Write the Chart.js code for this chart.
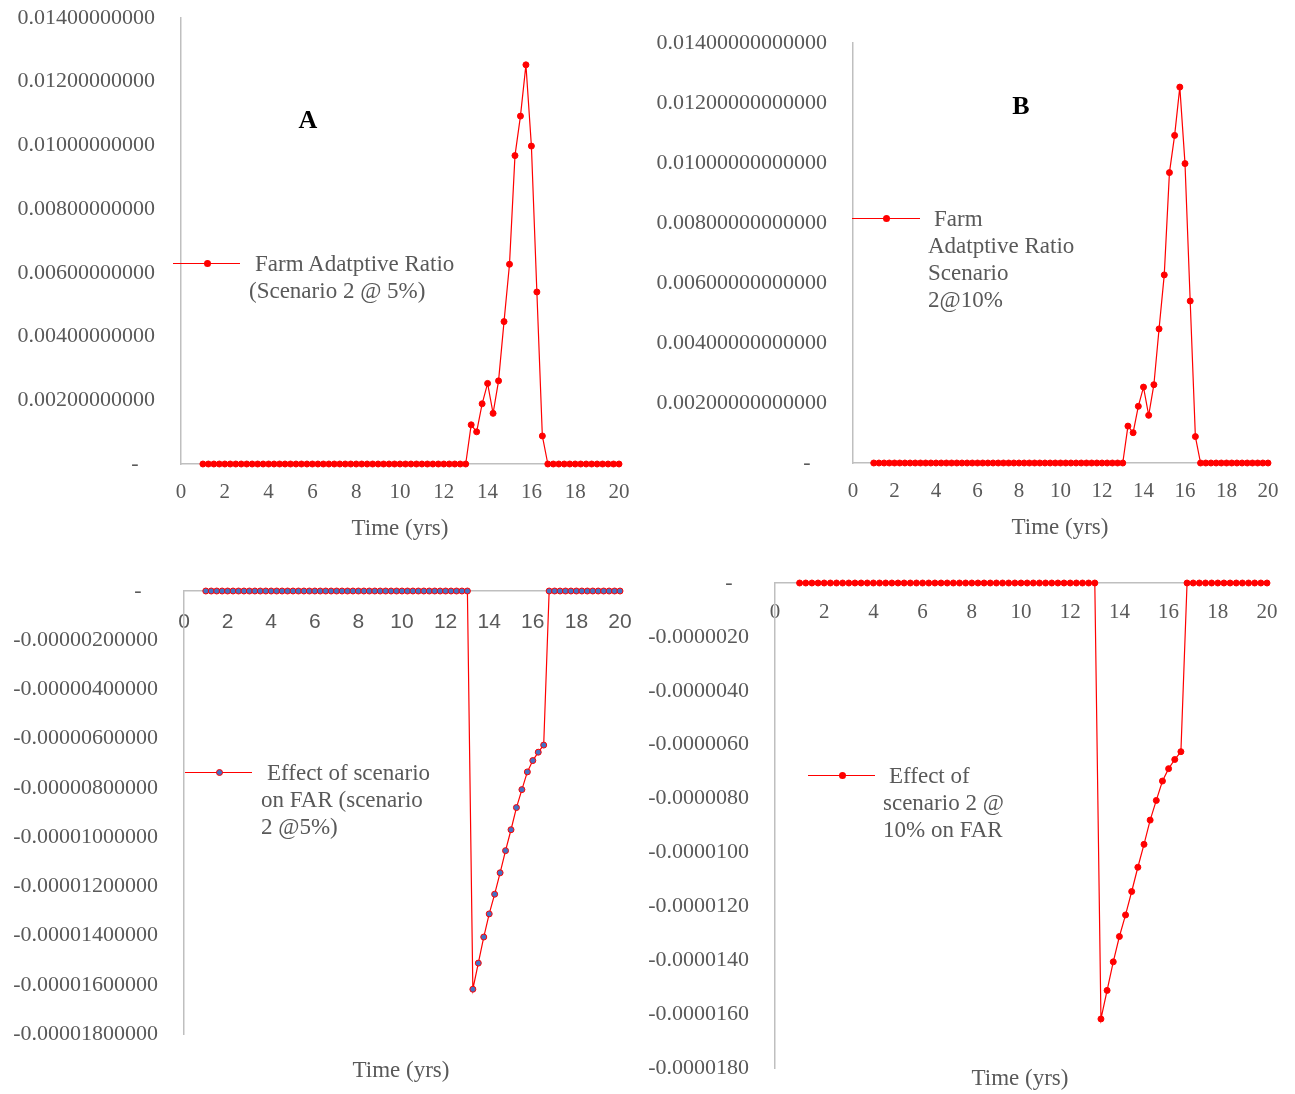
<!DOCTYPE html>
<html>
<head>
<meta charset="utf-8">
<script src="https://cdn.jsdelivr.net/npm/chart.js@4.4.0/dist/chart.umd.min.js"></script>
<style>
body { margin: 0; background: #fff; }
#wrap { position: relative; width: 1295px; height: 1094px; overflow: hidden; font-family: "Liberation Serif", serif; color: #595959; }
canvas { position: absolute; }
.leg { position: absolute; font-size: 23px; line-height: 27px; white-space: nowrap; }
.leg .first { padding-left: 6px; }
.legLine { position: absolute; height: 1px; background: #ff0000; }
.legDot { position: absolute; width: 7px; height: 7px; border-radius: 50%; background: #ff0000; box-sizing: border-box; }
.axTitle { position: absolute; font-size: 23px; white-space: nowrap; transform: translate(-50%, -50%); }
.tag { position: absolute; font-weight: bold; font-size: 26px; color: #000; transform: translate(-50%, -50%); }
</style>
</head>
<body>
<div id="wrap">
  <canvas id="chartA" width="645" height="550" style="left:0;top:0"></canvas>
  <canvas id="chartB" width="650" height="550" style="left:645px;top:0"></canvas>
  <canvas id="chartC" width="645" height="520" style="left:0;top:555px"></canvas>
  <canvas id="chartD" width="650" height="539" style="left:645px;top:555px"></canvas>

  <div class="tag" style="left:308px;top:120px">A</div>
  <div class="tag" style="left:1021px;top:106px">B</div>

  <div class="legLine" style="left:173px;top:263px;width:67px"></div>
  <div class="legDot" style="left:203.5px;top:260px"></div>
  <div class="leg" style="left:249px;top:249.5px"><div class="first">Farm Adatptive Ratio</div><div>(Scenario 2 @ 5%)</div></div>

  <div class="legLine" style="left:852px;top:218px;width:68px"></div>
  <div class="legDot" style="left:882.5px;top:215px"></div>
  <div class="leg" style="left:928px;top:204.5px"><div class="first">Farm</div><div>Adatptive Ratio</div><div>Scenario</div><div>2@10%</div></div>

  <div class="legLine" style="left:185px;top:772px;width:67px"></div>
  <div class="legDot" style="left:215.5px;top:769px;background:#4472c4;border:1px solid #ff0000"></div>
  <div class="leg" style="left:261px;top:758.5px"><div class="first">Effect of scenario</div><div>on FAR (scenario</div><div>2 @5%)</div></div>

  <div class="legLine" style="left:808px;top:775px;width:67px"></div>
  <div class="legDot" style="left:838.5px;top:772px"></div>
  <div class="leg" style="left:883px;top:761.5px"><div class="first">Effect of</div><div>scenario 2 @</div><div>10% on FAR</div></div>

  <div class="axTitle" style="left:400px;top:528px">Time (yrs)</div>
  <div class="axTitle" style="left:1060px;top:527px">Time (yrs)</div>
  <div class="axTitle" style="left:401px;top:1070px">Time (yrs)</div>
  <div class="axTitle" style="left:1020px;top:1078px">Time (yrs)</div>
</div>
<script>
// time steps (yrs)
const years = [
  1, 1.25, 1.5, 1.75, 2, 2.25, 2.5, 2.75, 3, 3.25, 3.5, 3.75, 4, 4.25, 4.5, 4.75,
  5, 5.25, 5.5, 5.75, 6, 6.25, 6.5, 6.75, 7, 7.25, 7.5, 7.75, 8, 8.25, 8.5, 8.75,
  9, 9.25, 9.5, 9.75, 10, 10.25, 10.5, 10.75, 11, 11.25, 11.5, 11.75, 12, 12.25, 12.5, 12.75,
  13, 13.25, 13.5, 13.75, 14, 14.25, 14.5, 14.75, 15, 15.25, 15.5, 15.75, 16, 16.25, 16.5,
  16.75, 17, 17.25, 17.5, 17.75, 18, 18.25, 18.5, 18.75, 19, 19.25, 19.5, 19.75, 20
];

// farm adaptive ratio (A and B)
const farRatio = [
  0, 0, 0, 0, 0, 0, 0, 0, 0, 0, 0, 0, 0, 0, 0, 0,
  0, 0, 0, 0, 0, 0, 0, 0, 0, 0, 0, 0, 0, 0, 0, 0,
  0, 0, 0, 0, 0, 0, 0, 0, 0, 0, 0, 0, 0, 0, 0, 0,
  0, 0.00123, 0.00101, 0.00189, 0.00253, 0.00159, 0.00261, 0.00447, 0.00627, 0.00968, 0.01092, 0.01253, 0.00998, 0.00540, 0.00088,
  0, 0, 0, 0, 0, 0, 0, 0, 0, 0, 0, 0, 0, 0
];

// effect of scenario on FAR (C and D)
const farEffect = [
  0, 0, 0, 0, 0, 0, 0, 0, 0, 0, 0, 0, 0, 0, 0, 0,
  0, 0, 0, 0, 0, 0, 0, 0, 0, 0, 0, 0, 0, 0, 0, 0,
  0, 0, 0, 0, 0, 0, 0, 0, 0, 0, 0, 0, 0, 0, 0, 0,
  0, -0.00001618, -0.00001512, -0.00001406, -0.00001312, -0.00001232, -0.00001145, -0.00001055,
  -0.00000970, -0.00000880, -0.00000807, -0.00000735, -0.00000689, -0.00000655, -0.00000626,
  0, 0, 0, 0, 0, 0, 0, 0, 0, 0, 0, 0, 0, 0
];

const grey = '#595959';
const axisGrey = '#bfbfbf';
const serif = 'Liberation Serif';

function makeChart(id, cfg) {
  const ctx = document.getElementById(id).getContext('2d');
  const xScale = {
    type: 'linear',
    min: 0,
    max: 20,
    grid: { display: false, drawTicks: false },
    border: { display: true, color: axisGrey, width: 1.5 },
    ticks: {
      stepSize: 2,
      autoSkip: false,
      maxRotation: 0,
      color: grey,
      padding: cfg.xPad,
      font: { family: cfg.xFont || serif, size: 21 }
    },
    afterFit: (scale) => {
      // keep the chart area where the reference has it
      if (!cfg.xAtZero) scale.height = cfg.xHeight;
      scale.paddingLeft = 0;
      scale.paddingRight = 0;
    }
  };
  xScale.position = cfg.xAtZero ? { y: 0 } : 'bottom';

  return new Chart(ctx, {
    type: 'line',
    data: {
      datasets: [{
        data: years.map((t, i) => ({ x: t, y: cfg.values[i] })),
        borderColor: '#ff0000',
        borderWidth: 1.2,
        tension: 0,
        clip: false,
        pointRadius: 3,
        pointBorderWidth: 1,
        pointBackgroundColor: cfg.pointFill || '#ff0000',
        pointBorderColor: '#ff0000'
      }]
    },
    options: {
      responsive: false,
      animation: false,
      layout: { padding: cfg.padding },
      plugins: { legend: { display: false }, tooltip: { enabled: false } },
      scales: {
        x: xScale,
        y: {
          type: 'linear',
          min: cfg.yMin,
          max: cfg.yMax,
          position: 'left',
          afterFit: (scale) => {
            scale.width = cfg.yWidth;
            scale.paddingTop = 0;
            scale.paddingBottom = 0;
          },
          grid: { display: false, drawTicks: false },
          border: { display: true, color: axisGrey, width: 1.5 },
          ticks: {
            stepSize: cfg.yStep,
            color: grey,
            padding: 26,
            font: { family: serif, size: 22 },
            callback: (v) => Math.abs(v) < 1e-12 ? '-   ' : Number(v).toFixed(cfg.decimals)
          }
        }
      }
    }
  });
}

makeChart('chartA', {
  values: farRatio, yMin: 0, yMax: 0.014, yStep: 0.002, decimals: 11,
  yWidth: 181, xHeight: 86, xPad: 16,
  padding: { left: 0, right: 26, top: 18, bottom: 0 }
});

makeChart('chartB', {
  values: farRatio, yMin: 0, yMax: 0.014, yStep: 0.002, decimals: 14,
  yWidth: 208, xHeight: 87, xPad: 16,
  padding: { left: 0, right: 27, top: 43, bottom: 0 }
});

makeChart('chartC', {
  values: farEffect, yMin: -0.000018, yMax: 0, yStep: 0.000002, decimals: 11,
  yWidth: 184, xAtZero: true, xPad: 19, xFont: 'Liberation Sans', pointFill: '#4472c4',
  padding: { left: 0, right: 25, top: 36, bottom: 41 }
});

makeChart('chartD', {
  values: farEffect, yMin: -0.000018, yMax: 0, yStep: 0.000002, decimals: 7,
  yWidth: 130, xAtZero: true, xPad: 17,
  padding: { left: 0, right: 28, top: 28, bottom: 26 }
});
</script>
</body>
</html>
